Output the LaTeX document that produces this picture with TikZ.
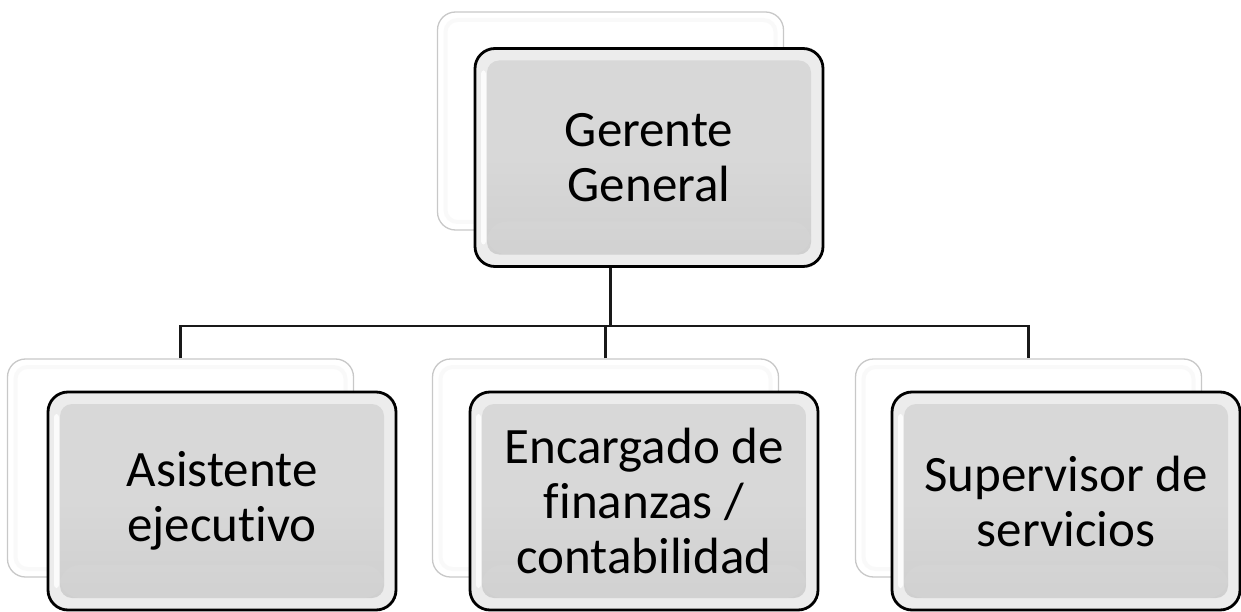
\documentclass[tikz,border=0pt]{standalone}
\usepackage{fontspec}
\setmainfont{Carlito}[Ligatures=CommonOff]
\definecolor{ringcol}{RGB}{236,236,236}
\definecolor{innercol}{RGB}{216,216,216}
\definecolor{innerbot}{RGB}{206,206,206}
\definecolor{backline}{RGB}{200,200,200}
\definecolor{linecol}{RGB}{25,25,25}
\begin{document}
\begin{tikzpicture}[x=1pt,y=-1pt,
  backbox/.style={rectangle, rounded corners=18pt, fill=white, draw=backline, line width=1.3pt,
    minimum width=346pt, minimum height=218pt, inner sep=0pt,
    path picture={\draw[gray!5, line width=4pt, rounded corners=12pt]
      ([shift={(8pt,-8pt)}]path picture bounding box.north west) rectangle
      ([shift={(-8pt,8pt)}]path picture bounding box.south east);}},
  frontbox/.style={rectangle, rounded corners=20pt, fill=ringcol, draw=black, line width=2.8pt,
    minimum width=348pt, minimum height=218pt, inner sep=0pt, align=center,
    font=\fontsize{51}{55}\selectfont,
    path picture={
      \shade[top color=innercol, bottom color=innerbot, middle color=innercol, rounded corners=12pt]
        ([shift={(12pt,-12pt)}]path picture bounding box.north west) rectangle
        ([shift={(-12pt,12pt)}]path picture bounding box.south east);
      \fill[white, opacity=0.8, rounded corners=3pt]
        ([shift={(6pt,-22pt)}]path picture bounding box.north west) rectangle
        ([shift={(11pt,22pt)}]path picture bounding box.south west);
      \fill[gray!30, opacity=0.3]
        ([shift={(12pt,45pt)}]path picture bounding box.south west) rectangle
        ([shift={(-12pt,12pt)}]path picture bounding box.south east);
    }},
  conn/.style={draw=linecol, line width=2.6pt}
]
\useasboundingbox (0,0) rectangle (1241,612);
% back boxes
\node[backbox] (tb) at (610.5,121) {};
\node[backbox] (b1) at (180.5,468) {};
\node[backbox] (b2) at (605.5,468) {};
\node[backbox] (b3) at (1028.5,468) {};
% connectors
\coordinate (bus) at (0,326);
\draw[conn] (tb.south) -- (tb.south |- bus);
\draw[conn] (b1.north) |- (tb.south |- bus) -| (b3.north);
\draw[conn] (b2.north) -- (b2.north |- bus);
% front boxes
\node[frontbox] (t) at (649,157.5) {Gerente\\General};
\node[frontbox] (f1) at (222,501) {Asistente\\ejecutivo};
\node[frontbox] (f2) at (644,501) {Encargado de\\finanzas /\\contabilidad};
\node[frontbox] (f3) at (1066,501) {Supervisor de\\servicios};
\end{tikzpicture}
\end{document}
